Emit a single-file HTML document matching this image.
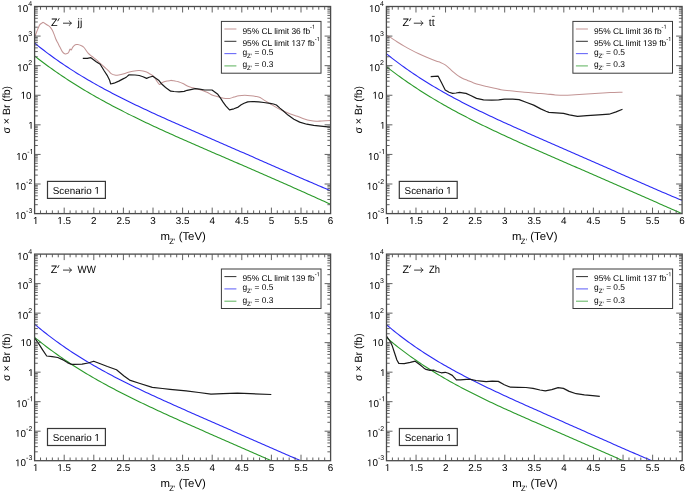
<!DOCTYPE html>
<html><head><meta charset="utf-8"><style>
html,body{margin:0;padding:0;background:#fff;width:685px;height:494px;overflow:hidden;}
svg{display:block;will-change:transform;}
tspan.o{fill-opacity:0;}
text{font-family:"Liberation Sans", sans-serif;text-rendering:geometricPrecision;}
</style></head><body>
<svg width="685" height="494" viewBox="0 0 685 494" font-family='"Liberation Sans", sans-serif' fill="#000">
<rect width="685" height="494" fill="#fff"/>
<defs>
<clipPath id="c1"><rect x="34.60" y="6.50" width="296.00" height="207.10"/></clipPath>
<clipPath id="c2"><rect x="386.40" y="6.50" width="295.70" height="207.10"/></clipPath>
<clipPath id="c3"><rect x="34.60" y="254.10" width="296.00" height="206.60"/></clipPath>
<clipPath id="c4"><rect x="386.50" y="254.10" width="295.70" height="206.60"/></clipPath>
</defs>
<g clip-path="url(#c1)">
<path d="M34.10,55.62 L36.10,57.19 L38.10,58.73 L40.10,60.26 L42.10,61.77 L44.10,63.26 L46.10,64.74 L48.10,66.20 L50.10,67.64 L52.10,69.07 L54.10,70.48 L56.10,71.87 L58.10,73.25 L60.10,74.62 L62.10,75.97 L64.10,77.30 L66.10,78.62 L68.10,79.93 L70.10,81.22 L72.10,82.50 L74.10,83.77 L76.10,85.02 L78.10,86.26 L80.10,87.49 L82.10,88.70 L84.10,89.91 L86.10,91.10 L88.10,92.28 L90.10,93.45 L92.10,94.61 L94.10,95.76 L96.10,96.90 L98.10,98.03 L100.10,99.14 L102.10,100.25 L104.10,101.35 L106.10,102.44 L108.10,103.52 L110.10,104.59 L112.10,105.66 L114.10,106.71 L116.10,107.76 L118.10,108.80 L120.10,109.83 L122.10,110.86 L124.10,111.87 L126.10,112.88 L128.10,113.89 L130.10,114.88 L132.10,115.87 L134.10,116.86 L136.10,117.84 L138.10,118.81 L140.10,119.77 L142.10,120.73 L144.10,121.69 L146.10,122.64 L148.10,123.59 L150.10,124.53 L152.10,125.46 L154.10,126.39 L156.10,127.32 L158.10,128.25 L160.10,129.16 L162.10,130.08 L164.10,130.99 L166.10,131.90 L168.10,132.81 L170.10,133.71 L172.10,134.61 L174.10,135.50 L176.10,136.40 L178.10,137.29 L180.10,138.17 L182.10,139.06 L184.10,139.94 L186.10,140.82 L188.10,141.70 L190.10,142.58 L192.10,143.46 L194.10,144.33 L196.10,145.21 L198.10,146.08 L200.10,146.95 L202.10,147.82 L204.10,148.68 L206.10,149.55 L208.10,150.42 L210.10,151.28 L212.10,152.15 L214.10,153.01 L216.10,153.88 L218.10,154.74 L220.10,155.60 L222.10,156.47 L224.10,157.33 L226.10,158.19 L228.10,159.06 L230.10,159.92 L232.10,160.78 L234.10,161.65 L236.10,162.51 L238.10,163.37 L240.10,164.24 L242.10,165.10 L244.10,165.97 L246.10,166.83 L248.10,167.70 L250.10,168.57 L252.10,169.44 L254.10,170.31 L256.10,171.18 L258.10,172.05 L260.10,172.92 L262.10,173.79 L264.10,174.66 L266.10,175.54 L268.10,176.41 L270.10,177.29 L272.10,178.17 L274.10,179.05 L276.10,179.93 L278.10,180.81 L280.10,181.69 L282.10,182.57 L284.10,183.46 L286.10,184.34 L288.10,185.23 L290.10,186.12 L292.10,187.00 L294.10,187.89 L296.10,188.78 L298.10,189.68 L300.10,190.57 L302.10,191.46 L304.10,192.36 L306.10,193.25 L308.10,194.15 L310.10,195.05 L312.10,195.95 L314.10,196.85 L316.10,197.75 L318.10,198.65 L320.10,199.55 L322.10,200.45 L324.10,201.36 L326.10,202.26 L328.10,203.16 L330.10,204.07 L330.60,204.29" stroke="#2a9a2a" stroke-width="1.10" fill="none" stroke-linejoin="round" stroke-linecap="butt" opacity="1.00"/>
<path d="M34.10,42.65 L36.10,44.27 L38.10,45.88 L40.10,47.46 L42.10,49.02 L44.10,50.56 L46.10,52.08 L48.10,53.58 L50.10,55.06 L52.10,56.52 L54.10,57.96 L56.10,59.39 L58.10,60.79 L60.10,62.18 L62.10,63.55 L64.10,64.90 L66.10,66.23 L68.10,67.55 L70.10,68.85 L72.10,70.14 L74.10,71.41 L76.10,72.67 L78.10,73.91 L80.10,75.14 L82.10,76.36 L84.10,77.56 L86.10,78.75 L88.10,79.92 L90.10,81.09 L92.10,82.24 L94.10,83.38 L96.10,84.51 L98.10,85.62 L100.10,86.73 L102.10,87.83 L104.10,88.91 L106.10,89.99 L108.10,91.05 L110.10,92.11 L112.10,93.16 L114.10,94.20 L116.10,95.23 L118.10,96.25 L120.10,97.27 L122.10,98.27 L124.10,99.27 L126.10,100.27 L128.10,101.25 L130.10,102.23 L132.10,103.20 L134.10,104.17 L136.10,105.13 L138.10,106.09 L140.10,107.04 L142.10,107.98 L144.10,108.92 L146.10,109.86 L148.10,110.79 L150.10,111.71 L152.10,112.64 L154.10,113.55 L156.10,114.47 L158.10,115.38 L160.10,116.29 L162.10,117.19 L164.10,118.09 L166.10,118.99 L168.10,119.88 L170.10,120.78 L172.10,121.67 L174.10,122.56 L176.10,123.44 L178.10,124.33 L180.10,125.21 L182.10,126.09 L184.10,126.97 L186.10,127.85 L188.10,128.72 L190.10,129.60 L192.10,130.47 L194.10,131.35 L196.10,132.22 L198.10,133.09 L200.10,133.96 L202.10,134.83 L204.10,135.70 L206.10,136.57 L208.10,137.44 L210.10,138.31 L212.10,139.18 L214.10,140.05 L216.10,140.92 L218.10,141.79 L220.10,142.66 L222.10,143.53 L224.10,144.40 L226.10,145.27 L228.10,146.14 L230.10,147.01 L232.10,147.89 L234.10,148.76 L236.10,149.63 L238.10,150.50 L240.10,151.38 L242.10,152.25 L244.10,153.12 L246.10,154.00 L248.10,154.87 L250.10,155.75 L252.10,156.62 L254.10,157.50 L256.10,158.38 L258.10,159.25 L260.10,160.13 L262.10,161.01 L264.10,161.89 L266.10,162.76 L268.10,163.64 L270.10,164.52 L272.10,165.40 L274.10,166.28 L276.10,167.16 L278.10,168.03 L280.10,168.91 L282.10,169.79 L284.10,170.67 L286.10,171.54 L288.10,172.42 L290.10,173.30 L292.10,174.17 L294.10,175.05 L296.10,175.92 L298.10,176.79 L300.10,177.66 L302.10,178.53 L304.10,179.40 L306.10,180.27 L308.10,181.13 L310.10,181.99 L312.10,182.86 L314.10,183.72 L316.10,184.57 L318.10,185.43 L320.10,186.28 L322.10,187.13 L324.10,187.97 L326.10,188.82 L328.10,189.66 L330.10,190.49 L330.60,190.70" stroke="#2a2af5" stroke-width="1.10" fill="none" stroke-linejoin="round" stroke-linecap="butt" opacity="1.00"/>
<path d="M35.00,36.20 C35.23,35.60 35.90,33.88 36.40,32.60 C36.90,31.32 37.45,29.78 38.00,28.50 C38.55,27.22 39.15,25.73 39.70,24.90 C40.25,24.07 40.70,23.92 41.30,23.50 C41.90,23.08 42.63,22.35 43.30,22.40 C43.97,22.45 44.55,23.32 45.30,23.80 C46.05,24.28 46.98,24.75 47.80,25.30 C48.62,25.85 49.47,26.30 50.20,27.10 C50.93,27.90 51.53,28.85 52.20,30.10 C52.87,31.35 53.60,33.12 54.20,34.60 C54.80,36.08 55.18,37.58 55.80,39.00 C56.42,40.42 57.22,41.75 57.90,43.10 C58.58,44.45 59.17,45.68 59.90,47.10 C60.63,48.52 61.50,50.48 62.30,51.60 C63.10,52.72 63.88,53.47 64.70,53.80 C65.52,54.13 66.52,53.90 67.20,53.60 C67.88,53.30 68.33,52.75 68.80,52.00 C69.27,51.25 69.60,49.43 70.00,49.10 C70.40,48.77 70.73,50.33 71.20,50.00 C71.67,49.67 72.12,47.98 72.80,47.10 C73.48,46.22 74.48,45.13 75.30,44.70 C76.12,44.27 76.77,44.37 77.70,44.50 C78.63,44.63 79.85,45.00 80.90,45.50 C81.95,46.00 82.80,46.22 84.00,47.50 C85.20,48.78 86.75,51.70 88.10,53.20 C89.45,54.70 90.75,55.42 92.10,56.50 C93.45,57.58 94.85,58.57 96.20,59.70 C97.55,60.83 98.85,62.08 100.20,63.30 C101.55,64.52 102.95,65.78 104.30,67.00 C105.65,68.22 107.08,69.45 108.30,70.60 C109.52,71.75 110.52,73.15 111.60,73.90 C112.68,74.65 113.60,74.93 114.80,75.10 C116.00,75.27 117.27,75.13 118.80,74.90 C120.33,74.67 122.40,74.15 124.00,73.70 C125.60,73.25 126.93,72.60 128.40,72.20 C129.87,71.80 131.10,71.57 132.80,71.30 C134.50,71.03 136.90,70.67 138.60,70.60 C140.30,70.53 141.67,70.68 143.00,70.90 C144.33,71.12 145.52,71.43 146.60,71.90 C147.68,72.37 148.52,73.10 149.50,73.70 C150.48,74.30 151.63,74.83 152.50,75.50 C153.37,76.17 153.98,76.78 154.70,77.70 C155.42,78.62 156.02,79.87 156.80,81.00 C157.58,82.13 158.67,84.13 159.40,84.50 C160.13,84.87 160.53,83.60 161.20,83.20 C161.87,82.80 162.42,82.45 163.40,82.10 C164.38,81.75 165.88,81.38 167.10,81.10 C168.32,80.82 169.55,80.45 170.70,80.40 C171.85,80.35 172.72,80.58 174.00,80.80 C175.28,81.02 176.82,81.20 178.40,81.70 C179.98,82.20 181.92,83.03 183.50,83.80 C185.08,84.57 186.32,85.63 187.90,86.30 C189.48,86.97 191.30,87.32 193.00,87.80 C194.70,88.28 196.40,88.72 198.10,89.20 C199.80,89.68 201.62,90.15 203.20,90.70 C204.78,91.25 206.13,91.77 207.60,92.50 C209.07,93.23 210.42,94.43 212.00,95.10 C213.58,95.77 215.17,95.98 217.10,96.50 C219.03,97.02 221.53,97.88 223.60,98.20 C225.67,98.52 227.78,98.58 229.50,98.40 C231.22,98.22 232.32,97.55 233.90,97.10 C235.48,96.65 237.18,96.00 239.00,95.70 C240.82,95.40 242.85,95.30 244.80,95.30 C246.75,95.30 248.87,95.52 250.70,95.70 C252.53,95.88 254.23,96.10 255.80,96.40 C257.37,96.70 258.65,96.83 260.10,97.50 C261.55,98.17 262.85,99.37 264.50,100.40 C266.15,101.43 267.83,102.42 270.00,103.70 C272.17,104.98 275.27,106.88 277.50,108.10 C279.73,109.32 281.25,110.03 283.40,111.00 C285.55,111.97 288.07,113.02 290.40,113.90 C292.73,114.78 295.07,115.45 297.40,116.30 C299.73,117.15 302.27,118.28 304.40,119.00 C306.53,119.72 308.25,120.22 310.20,120.60 C312.15,120.98 314.15,121.25 316.10,121.30 C318.05,121.35 319.57,121.05 321.90,120.90 C324.23,120.75 328.73,120.48 330.10,120.40" stroke="#c39595" stroke-width="1.05" fill="none" stroke-linejoin="round" stroke-linecap="butt" opacity="1.00"/>
<path d="M82.80,58.30 L87.30,58.30 L90.90,57.70 L92.90,59.30 L96.20,61.70 L100.20,64.20 L101.40,66.20 L104.30,71.00 L107.50,75.90 L109.50,79.90 L110.70,84.00 L114.00,83.20 L118.80,81.10 L124.00,78.40 L126.60,76.90 L129.10,74.80 L135.00,75.00 L139.30,75.50 L143.00,76.80 L146.60,78.40 L149.20,77.30 L152.80,76.20 L156.10,78.40 L159.00,80.60 L162.00,84.30 L165.60,87.50 L170.70,91.20 L174.00,91.50 L179.10,91.80 L184.20,91.40 L187.10,90.30 L190.80,89.60 L195.20,88.70 L199.50,89.20 L204.70,90.00 L212.00,90.00 L217.80,94.30 L220.70,98.40 L222.90,101.90 L225.80,105.90 L229.50,109.90 L233.90,108.80 L238.20,107.10 L241.20,104.80 L244.10,103.30 L247.70,101.90 L252.80,101.50 L258.70,101.90 L263.80,102.50 L270.00,103.30 L273.50,104.00 L276.40,105.00 L279.90,108.10 L283.40,111.00 L288.00,115.10 L293.90,119.20 L299.70,122.10 L306.70,124.20 L313.70,125.40 L320.70,126.20 L330.10,127.10" stroke="#1a1a1a" stroke-width="1.20" fill="none" stroke-linejoin="round" stroke-linecap="butt" opacity="1.00"/>
</g>
<rect x="34.60" y="6.50" width="296.00" height="207.10" fill="none" stroke="#4a4a4a" stroke-width="1.3"/>
<path d="M40.52,213.60v-3.20M40.52,6.50v3.20M46.44,213.60v-3.20M46.44,6.50v3.20M52.36,213.60v-3.20M52.36,6.50v3.20M58.28,213.60v-3.20M58.28,6.50v3.20M64.20,213.60v-6.00M64.20,6.50v6.00M70.12,213.60v-3.20M70.12,6.50v3.20M76.04,213.60v-3.20M76.04,6.50v3.20M81.96,213.60v-3.20M81.96,6.50v3.20M87.88,213.60v-3.20M87.88,6.50v3.20M93.80,213.60v-6.00M93.80,6.50v6.00M99.72,213.60v-3.20M99.72,6.50v3.20M105.64,213.60v-3.20M105.64,6.50v3.20M111.56,213.60v-3.20M111.56,6.50v3.20M117.48,213.60v-3.20M117.48,6.50v3.20M123.40,213.60v-6.00M123.40,6.50v6.00M129.32,213.60v-3.20M129.32,6.50v3.20M135.24,213.60v-3.20M135.24,6.50v3.20M141.16,213.60v-3.20M141.16,6.50v3.20M147.08,213.60v-3.20M147.08,6.50v3.20M153.00,213.60v-6.00M153.00,6.50v6.00M158.92,213.60v-3.20M158.92,6.50v3.20M164.84,213.60v-3.20M164.84,6.50v3.20M170.76,213.60v-3.20M170.76,6.50v3.20M176.68,213.60v-3.20M176.68,6.50v3.20M182.60,213.60v-6.00M182.60,6.50v6.00M188.52,213.60v-3.20M188.52,6.50v3.20M194.44,213.60v-3.20M194.44,6.50v3.20M200.36,213.60v-3.20M200.36,6.50v3.20M206.28,213.60v-3.20M206.28,6.50v3.20M212.20,213.60v-6.00M212.20,6.50v6.00M218.12,213.60v-3.20M218.12,6.50v3.20M224.04,213.60v-3.20M224.04,6.50v3.20M229.96,213.60v-3.20M229.96,6.50v3.20M235.88,213.60v-3.20M235.88,6.50v3.20M241.80,213.60v-6.00M241.80,6.50v6.00M247.72,213.60v-3.20M247.72,6.50v3.20M253.64,213.60v-3.20M253.64,6.50v3.20M259.56,213.60v-3.20M259.56,6.50v3.20M265.48,213.60v-3.20M265.48,6.50v3.20M271.40,213.60v-6.00M271.40,6.50v6.00M277.32,213.60v-3.20M277.32,6.50v3.20M283.24,213.60v-3.20M283.24,6.50v3.20M289.16,213.60v-3.20M289.16,6.50v3.20M295.08,213.60v-3.20M295.08,6.50v3.20M301.00,213.60v-6.00M301.00,6.50v6.00M306.92,213.60v-3.20M306.92,6.50v3.20M312.84,213.60v-3.20M312.84,6.50v3.20M318.76,213.60v-3.20M318.76,6.50v3.20M324.68,213.60v-3.20M324.68,6.50v3.20M34.60,204.69h3.20M330.60,204.69h-3.20M34.60,199.48h3.20M330.60,199.48h-3.20M34.60,195.79h3.20M330.60,195.79h-3.20M34.60,192.92h3.20M330.60,192.92h-3.20M34.60,190.58h3.20M330.60,190.58h-3.20M34.60,188.60h3.20M330.60,188.60h-3.20M34.60,186.88h3.20M330.60,186.88h-3.20M34.60,185.37h3.20M330.60,185.37h-3.20M34.60,184.01h6.00M330.60,184.01h-6.00M34.60,175.11h3.20M330.60,175.11h-3.20M34.60,169.90h3.20M330.60,169.90h-3.20M34.60,166.20h3.20M330.60,166.20h-3.20M34.60,163.33h3.20M330.60,163.33h-3.20M34.60,160.99h3.20M330.60,160.99h-3.20M34.60,159.01h3.20M330.60,159.01h-3.20M34.60,157.30h3.20M330.60,157.30h-3.20M34.60,155.78h3.20M330.60,155.78h-3.20M34.60,154.43h6.00M330.60,154.43h-6.00M34.60,145.52h3.20M330.60,145.52h-3.20M34.60,140.31h3.20M330.60,140.31h-3.20M34.60,136.62h3.20M330.60,136.62h-3.20M34.60,133.75h3.20M330.60,133.75h-3.20M34.60,131.41h3.20M330.60,131.41h-3.20M34.60,129.43h3.20M330.60,129.43h-3.20M34.60,127.71h3.20M330.60,127.71h-3.20M34.60,126.20h3.20M330.60,126.20h-3.20M34.60,124.84h6.00M330.60,124.84h-6.00M34.60,115.94h3.20M330.60,115.94h-3.20M34.60,110.73h3.20M330.60,110.73h-3.20M34.60,107.03h3.20M330.60,107.03h-3.20M34.60,104.16h3.20M330.60,104.16h-3.20M34.60,101.82h3.20M330.60,101.82h-3.20M34.60,99.84h3.20M330.60,99.84h-3.20M34.60,98.12h3.20M330.60,98.12h-3.20M34.60,96.61h3.20M330.60,96.61h-3.20M34.60,95.26h6.00M330.60,95.26h-6.00M34.60,86.35h3.20M330.60,86.35h-3.20M34.60,81.14h3.20M330.60,81.14h-3.20M34.60,77.44h3.20M330.60,77.44h-3.20M34.60,74.58h3.20M330.60,74.58h-3.20M34.60,72.23h3.20M330.60,72.23h-3.20M34.60,70.25h3.20M330.60,70.25h-3.20M34.60,68.54h3.20M330.60,68.54h-3.20M34.60,67.03h3.20M330.60,67.03h-3.20M34.60,65.67h6.00M330.60,65.67h-6.00M34.60,56.77h3.20M330.60,56.77h-3.20M34.60,51.56h3.20M330.60,51.56h-3.20M34.60,47.86h3.20M330.60,47.86h-3.20M34.60,44.99h3.20M330.60,44.99h-3.20M34.60,42.65h3.20M330.60,42.65h-3.20M34.60,40.67h3.20M330.60,40.67h-3.20M34.60,38.95h3.20M330.60,38.95h-3.20M34.60,37.44h3.20M330.60,37.44h-3.20M34.60,36.09h6.00M330.60,36.09h-6.00M34.60,27.18h3.20M330.60,27.18h-3.20M34.60,21.97h3.20M330.60,21.97h-3.20M34.60,18.27h3.20M330.60,18.27h-3.20M34.60,15.41h3.20M330.60,15.41h-3.20M34.60,13.06h3.20M330.60,13.06h-3.20M34.60,11.08h3.20M330.60,11.08h-3.20M34.60,9.37h3.20M330.60,9.37h-3.20M34.60,7.85h3.20M330.60,7.85h-3.20" stroke="#505050" stroke-width="0.9" fill="none"/>
<text x="35.70" y="223.90" font-size="9.90" text-anchor="middle"><tspan class="o">1</tspan></text>
<text x="64.20" y="223.90" font-size="9.90" text-anchor="middle"><tspan class="o">1</tspan>.5</text>
<text x="93.80" y="223.90" font-size="9.90" text-anchor="middle">2</text>
<text x="123.40" y="223.90" font-size="9.90" text-anchor="middle">2.5</text>
<text x="153.00" y="223.90" font-size="9.90" text-anchor="middle">3</text>
<text x="182.60" y="223.90" font-size="9.90" text-anchor="middle">3.5</text>
<text x="212.20" y="223.90" font-size="9.90" text-anchor="middle">4</text>
<text x="241.80" y="223.90" font-size="9.90" text-anchor="middle">4.5</text>
<text x="271.40" y="223.90" font-size="9.90" text-anchor="middle">5</text>
<text x="301.00" y="223.90" font-size="9.90" text-anchor="middle">5.5</text>
<text x="330.60" y="223.90" font-size="9.90" text-anchor="middle">6</text>
<text x="28.20" y="12.00" font-size="9.90" text-anchor="end"><tspan class="o">1</tspan>0</text>
<text x="28.20" y="6.00" font-size="7.00" text-anchor="start">4</text>
<text x="28.20" y="41.59" font-size="9.90" text-anchor="end"><tspan class="o">1</tspan>0</text>
<text x="28.20" y="35.59" font-size="7.00" text-anchor="start">3</text>
<text x="28.20" y="71.17" font-size="9.90" text-anchor="end"><tspan class="o">1</tspan>0</text>
<text x="28.20" y="65.17" font-size="7.00" text-anchor="start">2</text>
<text x="31.60" y="98.66" font-size="9.90" text-anchor="end"><tspan class="o">1</tspan>0</text>
<text x="33.65" y="128.74" font-size="9.90" text-anchor="end"><tspan class="o">1</tspan></text>
<text x="27.20" y="159.93" font-size="9.90" text-anchor="end"><tspan class="o">1</tspan>0</text>
<text x="27.20" y="153.93" font-size="7.00" text-anchor="start">-<tspan class="o">1</tspan></text>
<text x="26.05" y="189.51" font-size="9.90" text-anchor="end"><tspan class="o">1</tspan>0</text>
<text x="26.05" y="183.51" font-size="7.00" text-anchor="start">-2</text>
<text x="26.05" y="219.10" font-size="9.90" text-anchor="end"><tspan class="o">1</tspan>0</text>
<text x="26.05" y="213.10" font-size="7.00" text-anchor="start">-3</text>
<text x="183.10" y="240.20" font-size="11.35" text-anchor="middle">m<tspan font-size="7.6" dy="4" dx="-0.7">Z’</tspan><tspan dy="-4"> (TeV)</tspan></text>
<text transform="translate(9.70,109.75) rotate(-90)" font-size="10.5" text-anchor="middle">σ × Br (fb)</text>
<g clip-path="url(#c2)">
<path d="M385.90,66.21 L387.90,67.78 L389.90,69.33 L391.90,70.85 L393.90,72.36 L395.90,73.85 L397.90,75.33 L399.90,76.78 L401.90,78.22 L403.90,79.64 L405.90,81.04 L407.90,82.43 L409.90,83.80 L411.90,85.15 L413.90,86.49 L415.90,87.82 L417.90,89.13 L419.90,90.42 L421.90,91.70 L423.90,92.97 L425.90,94.22 L427.90,95.46 L429.90,96.68 L431.90,97.90 L433.90,99.10 L435.90,100.29 L437.90,101.47 L439.90,102.63 L441.90,103.78 L443.90,104.93 L445.90,106.06 L447.90,107.18 L449.90,108.29 L451.90,109.40 L453.90,110.49 L455.90,111.57 L457.90,112.65 L459.90,113.71 L461.90,114.77 L463.90,115.81 L465.90,116.85 L467.90,117.88 L469.90,118.91 L471.90,119.93 L473.90,120.93 L475.90,121.94 L477.90,122.93 L479.90,123.92 L481.90,124.90 L483.90,125.88 L485.90,126.85 L487.90,127.82 L489.90,128.77 L491.90,129.73 L493.90,130.68 L495.90,131.62 L497.90,132.56 L499.90,133.49 L501.90,134.43 L503.90,135.35 L505.90,136.27 L507.90,137.19 L509.90,138.11 L511.90,139.02 L513.90,139.92 L515.90,140.83 L517.90,141.73 L519.90,142.63 L521.90,143.52 L523.90,144.42 L525.90,145.31 L527.90,146.20 L529.90,147.08 L531.90,147.97 L533.90,148.85 L535.90,149.73 L537.90,150.61 L539.90,151.49 L541.90,152.36 L543.90,153.24 L545.90,154.11 L547.90,154.98 L549.90,155.85 L551.90,156.72 L553.90,157.59 L555.90,158.46 L557.90,159.33 L559.90,160.20 L561.90,161.07 L563.90,161.93 L565.90,162.80 L567.90,163.67 L569.90,164.53 L571.90,165.40 L573.90,166.27 L575.90,167.13 L577.90,168.00 L579.90,168.86 L581.90,169.73 L583.90,170.60 L585.90,171.47 L587.90,172.33 L589.90,173.20 L591.90,174.07 L593.90,174.94 L595.90,175.81 L597.90,176.68 L599.90,177.55 L601.90,178.42 L603.90,179.29 L605.90,180.17 L607.90,181.04 L609.90,181.91 L611.90,182.79 L613.90,183.66 L615.90,184.54 L617.90,185.41 L619.90,186.29 L621.90,187.16 L623.90,188.04 L625.90,188.92 L627.90,189.80 L629.90,190.68 L631.90,191.56 L633.90,192.44 L635.90,193.32 L637.90,194.20 L639.90,195.08 L641.90,195.96 L643.90,196.84 L645.90,197.72 L647.90,198.60 L649.90,199.48 L651.90,200.36 L653.90,201.24 L655.90,202.12 L657.90,203.00 L659.90,203.88 L661.90,204.76 L663.90,205.64 L665.90,206.52 L667.90,207.40 L669.90,208.27 L671.90,209.15 L673.90,210.02 L675.90,210.90 L677.90,211.77 L679.90,212.64 L681.90,213.51 L682.00,213.55" stroke="#2a9a2a" stroke-width="1.10" fill="none" stroke-linejoin="round" stroke-linecap="butt" opacity="1.00"/>
<path d="M385.90,53.31 L387.90,54.93 L389.90,56.52 L391.90,58.09 L393.90,59.64 L395.90,61.16 L397.90,62.67 L399.90,64.15 L401.90,65.62 L403.90,67.06 L405.90,68.49 L407.90,69.89 L409.90,71.28 L411.90,72.65 L413.90,74.00 L415.90,75.33 L417.90,76.65 L419.90,77.95 L421.90,79.24 L423.90,80.51 L425.90,81.76 L427.90,83.00 L429.90,84.22 L431.90,85.43 L433.90,86.63 L435.90,87.81 L437.90,88.98 L439.90,90.14 L441.90,91.29 L443.90,92.42 L445.90,93.54 L447.90,94.65 L449.90,95.75 L451.90,96.84 L453.90,97.92 L455.90,98.99 L457.90,100.05 L459.90,101.10 L461.90,102.14 L463.90,103.17 L465.90,104.19 L467.90,105.21 L469.90,106.22 L471.90,107.21 L473.90,108.21 L475.90,109.19 L477.90,110.17 L479.90,111.14 L481.90,112.11 L483.90,113.07 L485.90,114.02 L487.90,114.97 L489.90,115.92 L491.90,116.86 L493.90,117.79 L495.90,118.72 L497.90,119.64 L499.90,120.56 L501.90,121.48 L503.90,122.39 L505.90,123.30 L507.90,124.21 L509.90,125.11 L511.90,126.01 L513.90,126.91 L515.90,127.80 L517.90,128.70 L519.90,129.59 L521.90,130.48 L523.90,131.36 L525.90,132.25 L527.90,133.13 L529.90,134.01 L531.90,134.89 L533.90,135.77 L535.90,136.65 L537.90,137.52 L539.90,138.40 L541.90,139.27 L543.90,140.15 L545.90,141.02 L547.90,141.90 L549.90,142.77 L551.90,143.64 L553.90,144.52 L555.90,145.39 L557.90,146.26 L559.90,147.13 L561.90,148.01 L563.90,148.88 L565.90,149.75 L567.90,150.63 L569.90,151.50 L571.90,152.38 L573.90,153.25 L575.90,154.13 L577.90,155.00 L579.90,155.88 L581.90,156.76 L583.90,157.63 L585.90,158.51 L587.90,159.39 L589.90,160.27 L591.90,161.15 L593.90,162.03 L595.90,162.91 L597.90,163.79 L599.90,164.67 L601.90,165.56 L603.90,166.44 L605.90,167.32 L607.90,168.21 L609.90,169.09 L611.90,169.97 L613.90,170.86 L615.90,171.74 L617.90,172.63 L619.90,173.51 L621.90,174.39 L623.90,175.28 L625.90,176.16 L627.90,177.05 L629.90,177.93 L631.90,178.81 L633.90,179.69 L635.90,180.57 L637.90,181.45 L639.90,182.33 L641.90,183.21 L643.90,184.09 L645.90,184.96 L647.90,185.83 L649.90,186.71 L651.90,187.58 L653.90,188.44 L655.90,189.31 L657.90,190.17 L659.90,191.03 L661.90,191.89 L663.90,192.75 L665.90,193.60 L667.90,194.45 L669.90,195.29 L671.90,196.14 L673.90,196.97 L675.90,197.81 L677.90,198.64 L679.90,199.46 L681.90,200.28 L682.00,200.32" stroke="#2a2af5" stroke-width="1.10" fill="none" stroke-linejoin="round" stroke-linecap="butt" opacity="1.00"/>
<path d="M386.40,35.10 C386.93,35.40 387.83,35.80 389.60,36.90 C391.37,38.00 394.57,40.17 397.00,41.70 C399.43,43.23 401.78,44.70 404.20,46.10 C406.62,47.50 409.07,48.83 411.50,50.10 C413.93,51.37 416.37,52.55 418.80,53.70 C421.23,54.85 423.23,55.78 426.10,57.00 C428.97,58.22 433.62,60.10 436.00,61.00 C438.38,61.90 438.93,61.80 440.40,62.40 C441.87,63.00 443.35,63.65 444.80,64.60 C446.25,65.55 447.65,66.85 449.10,68.10 C450.55,69.35 452.03,70.85 453.50,72.10 C454.97,73.35 456.43,74.58 457.90,75.60 C459.37,76.62 460.70,77.40 462.30,78.20 C463.90,79.00 465.60,79.62 467.50,80.40 C469.40,81.18 471.65,82.17 473.70,82.90 C475.75,83.63 477.62,84.20 479.80,84.80 C481.98,85.40 484.10,85.88 486.80,86.50 C489.50,87.12 493.63,87.97 496.00,88.50 C498.37,89.03 498.22,89.27 501.00,89.70 C503.78,90.13 508.80,90.68 512.70,91.10 C516.60,91.52 520.50,91.85 524.40,92.20 C528.30,92.55 532.50,92.92 536.10,93.20 C539.70,93.48 542.80,93.62 546.00,93.90 C549.20,94.18 552.18,94.67 555.30,94.90 C558.42,95.13 561.38,95.33 564.70,95.30 C568.02,95.27 571.50,94.92 575.20,94.70 C578.90,94.48 583.00,94.25 586.90,94.00 C590.80,93.75 594.72,93.43 598.60,93.20 C602.48,92.97 606.22,92.77 610.20,92.60 C614.18,92.43 620.45,92.27 622.50,92.20" stroke="#c39595" stroke-width="1.05" fill="none" stroke-linejoin="round" stroke-linecap="butt" opacity="1.00"/>
<path d="M430.70,76.60 L438.20,76.20 L441.30,82.20 L445.20,90.00 L449.10,92.20 L452.60,93.40 L456.00,93.00 L459.60,92.40 L464.00,93.10 L466.00,93.40 L470.70,95.50 L476.50,98.40 L483.50,99.80 L491.70,100.20 L498.70,99.80 L504.50,99.20 L512.70,99.20 L519.10,99.60 L526.70,102.50 L533.70,105.10 L540.70,108.90 L546.00,111.30 L548.90,112.40 L563.50,113.30 L569.40,114.80 L577.50,116.30 L586.90,115.60 L598.60,114.80 L609.10,114.20 L616.10,111.90 L622.50,109.30" stroke="#1a1a1a" stroke-width="1.20" fill="none" stroke-linejoin="round" stroke-linecap="butt" opacity="1.00"/>
</g>
<rect x="386.40" y="6.50" width="295.70" height="207.10" fill="none" stroke="#4a4a4a" stroke-width="1.3"/>
<path d="M392.31,213.60v-3.20M392.31,6.50v3.20M398.23,213.60v-3.20M398.23,6.50v3.20M404.14,213.60v-3.20M404.14,6.50v3.20M410.06,213.60v-3.20M410.06,6.50v3.20M415.97,213.60v-6.00M415.97,6.50v6.00M421.88,213.60v-3.20M421.88,6.50v3.20M427.80,213.60v-3.20M427.80,6.50v3.20M433.71,213.60v-3.20M433.71,6.50v3.20M439.63,213.60v-3.20M439.63,6.50v3.20M445.54,213.60v-6.00M445.54,6.50v6.00M451.45,213.60v-3.20M451.45,6.50v3.20M457.37,213.60v-3.20M457.37,6.50v3.20M463.28,213.60v-3.20M463.28,6.50v3.20M469.20,213.60v-3.20M469.20,6.50v3.20M475.11,213.60v-6.00M475.11,6.50v6.00M481.02,213.60v-3.20M481.02,6.50v3.20M486.94,213.60v-3.20M486.94,6.50v3.20M492.85,213.60v-3.20M492.85,6.50v3.20M498.77,213.60v-3.20M498.77,6.50v3.20M504.68,213.60v-6.00M504.68,6.50v6.00M510.59,213.60v-3.20M510.59,6.50v3.20M516.51,213.60v-3.20M516.51,6.50v3.20M522.42,213.60v-3.20M522.42,6.50v3.20M528.34,213.60v-3.20M528.34,6.50v3.20M534.25,213.60v-6.00M534.25,6.50v6.00M540.16,213.60v-3.20M540.16,6.50v3.20M546.08,213.60v-3.20M546.08,6.50v3.20M551.99,213.60v-3.20M551.99,6.50v3.20M557.91,213.60v-3.20M557.91,6.50v3.20M563.82,213.60v-6.00M563.82,6.50v6.00M569.73,213.60v-3.20M569.73,6.50v3.20M575.65,213.60v-3.20M575.65,6.50v3.20M581.56,213.60v-3.20M581.56,6.50v3.20M587.48,213.60v-3.20M587.48,6.50v3.20M593.39,213.60v-6.00M593.39,6.50v6.00M599.30,213.60v-3.20M599.30,6.50v3.20M605.22,213.60v-3.20M605.22,6.50v3.20M611.13,213.60v-3.20M611.13,6.50v3.20M617.05,213.60v-3.20M617.05,6.50v3.20M622.96,213.60v-6.00M622.96,6.50v6.00M628.87,213.60v-3.20M628.87,6.50v3.20M634.79,213.60v-3.20M634.79,6.50v3.20M640.70,213.60v-3.20M640.70,6.50v3.20M646.62,213.60v-3.20M646.62,6.50v3.20M652.53,213.60v-6.00M652.53,6.50v6.00M658.44,213.60v-3.20M658.44,6.50v3.20M664.36,213.60v-3.20M664.36,6.50v3.20M670.27,213.60v-3.20M670.27,6.50v3.20M676.19,213.60v-3.20M676.19,6.50v3.20M386.40,204.69h3.20M682.10,204.69h-3.20M386.40,199.48h3.20M682.10,199.48h-3.20M386.40,195.79h3.20M682.10,195.79h-3.20M386.40,192.92h3.20M682.10,192.92h-3.20M386.40,190.58h3.20M682.10,190.58h-3.20M386.40,188.60h3.20M682.10,188.60h-3.20M386.40,186.88h3.20M682.10,186.88h-3.20M386.40,185.37h3.20M682.10,185.37h-3.20M386.40,184.01h6.00M682.10,184.01h-6.00M386.40,175.11h3.20M682.10,175.11h-3.20M386.40,169.90h3.20M682.10,169.90h-3.20M386.40,166.20h3.20M682.10,166.20h-3.20M386.40,163.33h3.20M682.10,163.33h-3.20M386.40,160.99h3.20M682.10,160.99h-3.20M386.40,159.01h3.20M682.10,159.01h-3.20M386.40,157.30h3.20M682.10,157.30h-3.20M386.40,155.78h3.20M682.10,155.78h-3.20M386.40,154.43h6.00M682.10,154.43h-6.00M386.40,145.52h3.20M682.10,145.52h-3.20M386.40,140.31h3.20M682.10,140.31h-3.20M386.40,136.62h3.20M682.10,136.62h-3.20M386.40,133.75h3.20M682.10,133.75h-3.20M386.40,131.41h3.20M682.10,131.41h-3.20M386.40,129.43h3.20M682.10,129.43h-3.20M386.40,127.71h3.20M682.10,127.71h-3.20M386.40,126.20h3.20M682.10,126.20h-3.20M386.40,124.84h6.00M682.10,124.84h-6.00M386.40,115.94h3.20M682.10,115.94h-3.20M386.40,110.73h3.20M682.10,110.73h-3.20M386.40,107.03h3.20M682.10,107.03h-3.20M386.40,104.16h3.20M682.10,104.16h-3.20M386.40,101.82h3.20M682.10,101.82h-3.20M386.40,99.84h3.20M682.10,99.84h-3.20M386.40,98.12h3.20M682.10,98.12h-3.20M386.40,96.61h3.20M682.10,96.61h-3.20M386.40,95.26h6.00M682.10,95.26h-6.00M386.40,86.35h3.20M682.10,86.35h-3.20M386.40,81.14h3.20M682.10,81.14h-3.20M386.40,77.44h3.20M682.10,77.44h-3.20M386.40,74.58h3.20M682.10,74.58h-3.20M386.40,72.23h3.20M682.10,72.23h-3.20M386.40,70.25h3.20M682.10,70.25h-3.20M386.40,68.54h3.20M682.10,68.54h-3.20M386.40,67.03h3.20M682.10,67.03h-3.20M386.40,65.67h6.00M682.10,65.67h-6.00M386.40,56.77h3.20M682.10,56.77h-3.20M386.40,51.56h3.20M682.10,51.56h-3.20M386.40,47.86h3.20M682.10,47.86h-3.20M386.40,44.99h3.20M682.10,44.99h-3.20M386.40,42.65h3.20M682.10,42.65h-3.20M386.40,40.67h3.20M682.10,40.67h-3.20M386.40,38.95h3.20M682.10,38.95h-3.20M386.40,37.44h3.20M682.10,37.44h-3.20M386.40,36.09h6.00M682.10,36.09h-6.00M386.40,27.18h3.20M682.10,27.18h-3.20M386.40,21.97h3.20M682.10,21.97h-3.20M386.40,18.27h3.20M682.10,18.27h-3.20M386.40,15.41h3.20M682.10,15.41h-3.20M386.40,13.06h3.20M682.10,13.06h-3.20M386.40,11.08h3.20M682.10,11.08h-3.20M386.40,9.37h3.20M682.10,9.37h-3.20M386.40,7.85h3.20M682.10,7.85h-3.20" stroke="#505050" stroke-width="0.9" fill="none"/>
<text x="387.50" y="223.90" font-size="9.90" text-anchor="middle"><tspan class="o">1</tspan></text>
<text x="415.97" y="223.90" font-size="9.90" text-anchor="middle"><tspan class="o">1</tspan>.5</text>
<text x="445.54" y="223.90" font-size="9.90" text-anchor="middle">2</text>
<text x="475.11" y="223.90" font-size="9.90" text-anchor="middle">2.5</text>
<text x="504.68" y="223.90" font-size="9.90" text-anchor="middle">3</text>
<text x="534.25" y="223.90" font-size="9.90" text-anchor="middle">3.5</text>
<text x="563.82" y="223.90" font-size="9.90" text-anchor="middle">4</text>
<text x="593.39" y="223.90" font-size="9.90" text-anchor="middle">4.5</text>
<text x="622.96" y="223.90" font-size="9.90" text-anchor="middle">5</text>
<text x="652.53" y="223.90" font-size="9.90" text-anchor="middle">5.5</text>
<text x="682.10" y="223.90" font-size="9.90" text-anchor="middle">6</text>
<text x="380.00" y="12.00" font-size="9.90" text-anchor="end"><tspan class="o">1</tspan>0</text>
<text x="380.00" y="6.00" font-size="7.00" text-anchor="start">4</text>
<text x="380.00" y="41.59" font-size="9.90" text-anchor="end"><tspan class="o">1</tspan>0</text>
<text x="380.00" y="35.59" font-size="7.00" text-anchor="start">3</text>
<text x="380.00" y="71.17" font-size="9.90" text-anchor="end"><tspan class="o">1</tspan>0</text>
<text x="380.00" y="65.17" font-size="7.00" text-anchor="start">2</text>
<text x="383.40" y="98.66" font-size="9.90" text-anchor="end"><tspan class="o">1</tspan>0</text>
<text x="385.45" y="128.74" font-size="9.90" text-anchor="end"><tspan class="o">1</tspan></text>
<text x="379.00" y="159.93" font-size="9.90" text-anchor="end"><tspan class="o">1</tspan>0</text>
<text x="379.00" y="153.93" font-size="7.00" text-anchor="start">-<tspan class="o">1</tspan></text>
<text x="377.85" y="189.51" font-size="9.90" text-anchor="end"><tspan class="o">1</tspan>0</text>
<text x="377.85" y="183.51" font-size="7.00" text-anchor="start">-2</text>
<text x="377.85" y="219.10" font-size="9.90" text-anchor="end"><tspan class="o">1</tspan>0</text>
<text x="377.85" y="213.10" font-size="7.00" text-anchor="start">-3</text>
<text x="534.75" y="240.20" font-size="11.35" text-anchor="middle">m<tspan font-size="7.6" dy="4" dx="-0.7">Z’</tspan><tspan dy="-4"> (TeV)</tspan></text>
<text transform="translate(361.50,109.75) rotate(-90)" font-size="10.5" text-anchor="middle">σ × Br (fb)</text>
<g clip-path="url(#c3)">
<path d="M34.10,336.93 L36.10,338.57 L38.10,340.19 L40.10,341.78 L42.10,343.36 L44.10,344.91 L46.10,346.44 L48.10,347.96 L50.10,349.45 L52.10,350.93 L54.10,352.38 L56.10,353.82 L58.10,355.24 L60.10,356.64 L62.10,358.02 L64.10,359.39 L66.10,360.74 L68.10,362.07 L70.10,363.39 L72.10,364.70 L74.10,365.99 L76.10,367.26 L78.10,368.52 L80.10,369.76 L82.10,370.99 L84.10,372.21 L86.10,373.42 L88.10,374.61 L90.10,375.79 L92.10,376.96 L94.10,378.12 L96.10,379.26 L98.10,380.40 L100.10,381.52 L102.10,382.63 L104.10,383.74 L106.10,384.83 L108.10,385.91 L110.10,386.99 L112.10,388.05 L114.10,389.11 L116.10,390.16 L118.10,391.20 L120.10,392.23 L122.10,393.25 L124.10,394.27 L126.10,395.28 L128.10,396.28 L130.10,397.28 L132.10,398.27 L134.10,399.25 L136.10,400.23 L138.10,401.20 L140.10,402.16 L142.10,403.13 L144.10,404.08 L146.10,405.03 L148.10,405.98 L150.10,406.92 L152.10,407.86 L154.10,408.79 L156.10,409.72 L158.10,410.64 L160.10,411.57 L162.10,412.49 L164.10,413.40 L166.10,414.31 L168.10,415.22 L170.10,416.13 L172.10,417.03 L174.10,417.93 L176.10,418.83 L178.10,419.73 L180.10,420.63 L182.10,421.52 L184.10,422.41 L186.10,423.30 L188.10,424.19 L190.10,425.07 L192.10,425.96 L194.10,426.84 L196.10,427.73 L198.10,428.61 L200.10,429.49 L202.10,430.37 L204.10,431.25 L206.10,432.13 L208.10,433.01 L210.10,433.89 L212.10,434.76 L214.10,435.64 L216.10,436.52 L218.10,437.39 L220.10,438.27 L222.10,439.15 L224.10,440.02 L226.10,440.90 L228.10,441.77 L230.10,442.65 L232.10,443.52 L234.10,444.40 L236.10,445.27 L238.10,446.15 L240.10,447.03 L242.10,447.90 L244.10,448.78 L246.10,449.65 L248.10,450.53 L250.10,451.40 L252.10,452.28 L254.10,453.16 L256.10,454.03 L258.10,454.91 L260.10,455.78 L262.10,456.66 L264.10,457.53 L266.10,458.41 L268.10,459.28 L270.10,460.15 L272.10,461.03 L274.10,461.90 L276.10,462.77 L278.10,463.64 L280.00,464.47" stroke="#2a9a2a" stroke-width="1.10" fill="none" stroke-linejoin="round" stroke-linecap="butt" opacity="1.00"/>
<path d="M34.10,323.67 L36.10,325.37 L38.10,327.06 L40.10,328.71 L42.10,330.35 L44.10,331.95 L46.10,333.54 L48.10,335.10 L50.10,336.64 L52.10,338.15 L54.10,339.65 L56.10,341.12 L58.10,342.57 L60.10,344.01 L62.10,345.42 L64.10,346.81 L66.10,348.18 L68.10,349.54 L70.10,350.88 L72.10,352.20 L74.10,353.50 L76.10,354.79 L78.10,356.06 L80.10,357.32 L82.10,358.56 L84.10,359.78 L86.10,360.99 L88.10,362.19 L90.10,363.37 L92.10,364.54 L94.10,365.70 L96.10,366.84 L98.10,367.97 L100.10,369.09 L102.10,370.20 L104.10,371.30 L106.10,372.39 L108.10,373.46 L110.10,374.53 L112.10,375.59 L114.10,376.64 L116.10,377.67 L118.10,378.71 L120.10,379.73 L122.10,380.74 L124.10,381.75 L126.10,382.75 L128.10,383.74 L130.10,384.72 L132.10,385.70 L134.10,386.67 L136.10,387.64 L138.10,388.60 L140.10,389.55 L142.10,390.50 L144.10,391.45 L146.10,392.39 L148.10,393.32 L150.10,394.25 L152.10,395.18 L154.10,396.10 L156.10,397.02 L158.10,397.93 L160.10,398.85 L162.10,399.76 L164.10,400.66 L166.10,401.57 L168.10,402.47 L170.10,403.37 L172.10,404.26 L174.10,405.16 L176.10,406.05 L178.10,406.94 L180.10,407.83 L182.10,408.72 L184.10,409.61 L186.10,410.49 L188.10,411.38 L190.10,412.26 L192.10,413.14 L194.10,414.02 L196.10,414.91 L198.10,415.79 L200.10,416.67 L202.10,417.55 L204.10,418.43 L206.10,419.31 L208.10,420.19 L210.10,421.07 L212.10,421.95 L214.10,422.83 L216.10,423.71 L218.10,424.58 L220.10,425.46 L222.10,426.34 L224.10,427.22 L226.10,428.11 L228.10,428.99 L230.10,429.87 L232.10,430.75 L234.10,431.63 L236.10,432.51 L238.10,433.39 L240.10,434.27 L242.10,435.15 L244.10,436.04 L246.10,436.92 L248.10,437.80 L250.10,438.68 L252.10,439.56 L254.10,440.44 L256.10,441.32 L258.10,442.20 L260.10,443.08 L262.10,443.96 L264.10,444.84 L266.10,445.72 L268.10,446.60 L270.10,447.48 L272.10,448.35 L274.10,449.22 L276.10,450.10 L278.10,450.97 L280.10,451.84 L282.10,452.71 L284.10,453.57 L286.10,454.44 L288.10,455.30 L290.10,456.16 L292.10,457.01 L294.10,457.87 L296.10,458.72 L298.10,459.57 L300.10,460.41 L302.10,461.25 L304.10,462.09 L306.10,462.93 L308.10,463.76 L310.00,464.54" stroke="#2a2af5" stroke-width="1.10" fill="none" stroke-linejoin="round" stroke-linecap="butt" opacity="1.00"/>
<path d="M35.00,338.30 L39.10,344.40 L42.60,349.90 L46.70,356.00 L52.20,356.70 L57.80,357.50 L62.40,359.60 L67.40,362.60 L71.50,364.40 L74.00,364.40 L82.10,364.20 L88.20,363.00 L93.70,361.20 L100.30,363.70 L107.40,366.50 L116.50,369.80 L124.00,376.00 L129.60,380.10 L139.20,383.20 L152.30,387.40 L162.50,388.50 L170.00,389.30 L186.10,390.90 L198.90,392.50 L211.00,394.10 L223.00,393.70 L237.40,393.20 L250.30,393.70 L271.30,394.50" stroke="#1a1a1a" stroke-width="1.20" fill="none" stroke-linejoin="round" stroke-linecap="butt" opacity="1.00"/>
</g>
<rect x="34.60" y="254.10" width="296.00" height="206.60" fill="none" stroke="#4a4a4a" stroke-width="1.3"/>
<path d="M40.52,460.70v-3.20M40.52,254.10v3.20M46.44,460.70v-3.20M46.44,254.10v3.20M52.36,460.70v-3.20M52.36,254.10v3.20M58.28,460.70v-3.20M58.28,254.10v3.20M64.20,460.70v-6.00M64.20,254.10v6.00M70.12,460.70v-3.20M70.12,254.10v3.20M76.04,460.70v-3.20M76.04,254.10v3.20M81.96,460.70v-3.20M81.96,254.10v3.20M87.88,460.70v-3.20M87.88,254.10v3.20M93.80,460.70v-6.00M93.80,254.10v6.00M99.72,460.70v-3.20M99.72,254.10v3.20M105.64,460.70v-3.20M105.64,254.10v3.20M111.56,460.70v-3.20M111.56,254.10v3.20M117.48,460.70v-3.20M117.48,254.10v3.20M123.40,460.70v-6.00M123.40,254.10v6.00M129.32,460.70v-3.20M129.32,254.10v3.20M135.24,460.70v-3.20M135.24,254.10v3.20M141.16,460.70v-3.20M141.16,254.10v3.20M147.08,460.70v-3.20M147.08,254.10v3.20M153.00,460.70v-6.00M153.00,254.10v6.00M158.92,460.70v-3.20M158.92,254.10v3.20M164.84,460.70v-3.20M164.84,254.10v3.20M170.76,460.70v-3.20M170.76,254.10v3.20M176.68,460.70v-3.20M176.68,254.10v3.20M182.60,460.70v-6.00M182.60,254.10v6.00M188.52,460.70v-3.20M188.52,254.10v3.20M194.44,460.70v-3.20M194.44,254.10v3.20M200.36,460.70v-3.20M200.36,254.10v3.20M206.28,460.70v-3.20M206.28,254.10v3.20M212.20,460.70v-6.00M212.20,254.10v6.00M218.12,460.70v-3.20M218.12,254.10v3.20M224.04,460.70v-3.20M224.04,254.10v3.20M229.96,460.70v-3.20M229.96,254.10v3.20M235.88,460.70v-3.20M235.88,254.10v3.20M241.80,460.70v-6.00M241.80,254.10v6.00M247.72,460.70v-3.20M247.72,254.10v3.20M253.64,460.70v-3.20M253.64,254.10v3.20M259.56,460.70v-3.20M259.56,254.10v3.20M265.48,460.70v-3.20M265.48,254.10v3.20M271.40,460.70v-6.00M271.40,254.10v6.00M277.32,460.70v-3.20M277.32,254.10v3.20M283.24,460.70v-3.20M283.24,254.10v3.20M289.16,460.70v-3.20M289.16,254.10v3.20M295.08,460.70v-3.20M295.08,254.10v3.20M301.00,460.70v-6.00M301.00,254.10v6.00M306.92,460.70v-3.20M306.92,254.10v3.20M312.84,460.70v-3.20M312.84,254.10v3.20M318.76,460.70v-3.20M318.76,254.10v3.20M324.68,460.70v-3.20M324.68,254.10v3.20M34.60,451.82h3.20M330.60,451.82h-3.20M34.60,446.62h3.20M330.60,446.62h-3.20M34.60,442.93h3.20M330.60,442.93h-3.20M34.60,440.07h3.20M330.60,440.07h-3.20M34.60,437.73h3.20M330.60,437.73h-3.20M34.60,435.76h3.20M330.60,435.76h-3.20M34.60,434.05h3.20M330.60,434.05h-3.20M34.60,432.54h3.20M330.60,432.54h-3.20M34.60,431.19h6.00M330.60,431.19h-6.00M34.60,422.30h3.20M330.60,422.30h-3.20M34.60,417.10h3.20M330.60,417.10h-3.20M34.60,413.42h3.20M330.60,413.42h-3.20M34.60,410.56h3.20M330.60,410.56h-3.20M34.60,408.22h3.20M330.60,408.22h-3.20M34.60,406.24h3.20M330.60,406.24h-3.20M34.60,404.53h3.20M330.60,404.53h-3.20M34.60,403.02h3.20M330.60,403.02h-3.20M34.60,401.67h6.00M330.60,401.67h-6.00M34.60,392.79h3.20M330.60,392.79h-3.20M34.60,387.59h3.20M330.60,387.59h-3.20M34.60,383.90h3.20M330.60,383.90h-3.20M34.60,381.04h3.20M330.60,381.04h-3.20M34.60,378.70h3.20M330.60,378.70h-3.20M34.60,376.73h3.20M330.60,376.73h-3.20M34.60,375.02h3.20M330.60,375.02h-3.20M34.60,373.51h3.20M330.60,373.51h-3.20M34.60,372.16h6.00M330.60,372.16h-6.00M34.60,363.27h3.20M330.60,363.27h-3.20M34.60,358.08h3.20M330.60,358.08h-3.20M34.60,354.39h3.20M330.60,354.39h-3.20M34.60,351.53h3.20M330.60,351.53h-3.20M34.60,349.19h3.20M330.60,349.19h-3.20M34.60,347.21h3.20M330.60,347.21h-3.20M34.60,345.50h3.20M330.60,345.50h-3.20M34.60,343.99h3.20M330.60,343.99h-3.20M34.60,342.64h6.00M330.60,342.64h-6.00M34.60,333.76h3.20M330.60,333.76h-3.20M34.60,328.56h3.20M330.60,328.56h-3.20M34.60,324.87h3.20M330.60,324.87h-3.20M34.60,322.01h3.20M330.60,322.01h-3.20M34.60,319.68h3.20M330.60,319.68h-3.20M34.60,317.70h3.20M330.60,317.70h-3.20M34.60,315.99h3.20M330.60,315.99h-3.20M34.60,314.48h3.20M330.60,314.48h-3.20M34.60,313.13h6.00M330.60,313.13h-6.00M34.60,304.24h3.20M330.60,304.24h-3.20M34.60,299.05h3.20M330.60,299.05h-3.20M34.60,295.36h3.20M330.60,295.36h-3.20M34.60,292.50h3.20M330.60,292.50h-3.20M34.60,290.16h3.20M330.60,290.16h-3.20M34.60,288.19h3.20M330.60,288.19h-3.20M34.60,286.47h3.20M330.60,286.47h-3.20M34.60,284.96h3.20M330.60,284.96h-3.20M34.60,283.61h6.00M330.60,283.61h-6.00M34.60,274.73h3.20M330.60,274.73h-3.20M34.60,269.53h3.20M330.60,269.53h-3.20M34.60,265.84h3.20M330.60,265.84h-3.20M34.60,262.98h3.20M330.60,262.98h-3.20M34.60,260.65h3.20M330.60,260.65h-3.20M34.60,258.67h3.20M330.60,258.67h-3.20M34.60,256.96h3.20M330.60,256.96h-3.20M34.60,255.45h3.20M330.60,255.45h-3.20" stroke="#505050" stroke-width="0.9" fill="none"/>
<text x="35.70" y="471.00" font-size="9.90" text-anchor="middle"><tspan class="o">1</tspan></text>
<text x="64.20" y="471.00" font-size="9.90" text-anchor="middle"><tspan class="o">1</tspan>.5</text>
<text x="93.80" y="471.00" font-size="9.90" text-anchor="middle">2</text>
<text x="123.40" y="471.00" font-size="9.90" text-anchor="middle">2.5</text>
<text x="153.00" y="471.00" font-size="9.90" text-anchor="middle">3</text>
<text x="182.60" y="471.00" font-size="9.90" text-anchor="middle">3.5</text>
<text x="212.20" y="471.00" font-size="9.90" text-anchor="middle">4</text>
<text x="241.80" y="471.00" font-size="9.90" text-anchor="middle">4.5</text>
<text x="271.40" y="471.00" font-size="9.90" text-anchor="middle">5</text>
<text x="301.00" y="471.00" font-size="9.90" text-anchor="middle">5.5</text>
<text x="330.60" y="471.00" font-size="9.90" text-anchor="middle">6</text>
<text x="28.20" y="259.60" font-size="9.90" text-anchor="end"><tspan class="o">1</tspan>0</text>
<text x="28.20" y="253.60" font-size="7.00" text-anchor="start">4</text>
<text x="28.20" y="289.11" font-size="9.90" text-anchor="end"><tspan class="o">1</tspan>0</text>
<text x="28.20" y="283.11" font-size="7.00" text-anchor="start">3</text>
<text x="28.20" y="318.63" font-size="9.90" text-anchor="end"><tspan class="o">1</tspan>0</text>
<text x="28.20" y="312.63" font-size="7.00" text-anchor="start">2</text>
<text x="31.60" y="346.04" font-size="9.90" text-anchor="end"><tspan class="o">1</tspan>0</text>
<text x="33.65" y="376.06" font-size="9.90" text-anchor="end"><tspan class="o">1</tspan></text>
<text x="27.20" y="407.17" font-size="9.90" text-anchor="end"><tspan class="o">1</tspan>0</text>
<text x="27.20" y="401.17" font-size="7.00" text-anchor="start">-<tspan class="o">1</tspan></text>
<text x="26.05" y="436.69" font-size="9.90" text-anchor="end"><tspan class="o">1</tspan>0</text>
<text x="26.05" y="430.69" font-size="7.00" text-anchor="start">-2</text>
<text x="26.05" y="466.20" font-size="9.90" text-anchor="end"><tspan class="o">1</tspan>0</text>
<text x="26.05" y="460.20" font-size="7.00" text-anchor="start">-3</text>
<text x="183.10" y="487.30" font-size="11.35" text-anchor="middle">m<tspan font-size="7.6" dy="4" dx="-0.7">Z’</tspan><tspan dy="-4"> (TeV)</tspan></text>
<text transform="translate(9.70,357.10) rotate(-90)" font-size="10.5" text-anchor="middle">σ × Br (fb)</text>
<g clip-path="url(#c4)">
<path d="M386.00,337.22 L388.00,338.92 L390.00,340.60 L392.00,342.25 L394.00,343.88 L396.00,345.48 L398.00,347.06 L400.00,348.62 L402.00,350.15 L404.00,351.67 L406.00,353.16 L408.00,354.63 L410.00,356.08 L412.00,357.51 L414.00,358.92 L416.00,360.31 L418.00,361.68 L420.00,363.03 L422.00,364.36 L424.00,365.68 L426.00,366.98 L428.00,368.27 L430.00,369.53 L432.00,370.79 L434.00,372.02 L436.00,373.24 L438.00,374.45 L440.00,375.64 L442.00,376.82 L444.00,377.99 L446.00,379.14 L448.00,380.28 L450.00,381.41 L452.00,382.52 L454.00,383.62 L456.00,384.72 L458.00,385.80 L460.00,386.87 L462.00,387.93 L464.00,388.98 L466.00,390.02 L468.00,391.06 L470.00,392.08 L472.00,393.09 L474.00,394.10 L476.00,395.10 L478.00,396.09 L480.00,397.07 L482.00,398.05 L484.00,399.02 L486.00,399.98 L488.00,400.94 L490.00,401.89 L492.00,402.83 L494.00,403.77 L496.00,404.71 L498.00,405.63 L500.00,406.56 L502.00,407.48 L504.00,408.39 L506.00,409.31 L508.00,410.21 L510.00,411.12 L512.00,412.02 L514.00,412.91 L516.00,413.81 L518.00,414.70 L520.00,415.59 L522.00,416.47 L524.00,417.36 L526.00,418.24 L528.00,419.12 L530.00,420.00 L532.00,420.88 L534.00,421.75 L536.00,422.62 L538.00,423.50 L540.00,424.37 L542.00,425.24 L544.00,426.11 L546.00,426.98 L548.00,427.85 L550.00,428.72 L552.00,429.58 L554.00,430.45 L556.00,431.32 L558.00,432.19 L560.00,433.06 L562.00,433.93 L564.00,434.79 L566.00,435.66 L568.00,436.53 L570.00,437.40 L572.00,438.27 L574.00,439.14 L576.00,440.01 L578.00,440.89 L580.00,441.76 L582.00,442.63 L584.00,443.51 L586.00,444.38 L588.00,445.26 L590.00,446.14 L592.00,447.01 L594.00,447.89 L596.00,448.77 L598.00,449.65 L600.00,450.53 L602.00,451.41 L604.00,452.30 L606.00,453.18 L608.00,454.06 L610.00,454.95 L612.00,455.83 L614.00,456.72 L616.00,457.60 L618.00,458.49 L620.00,459.38 L622.00,460.26 L624.00,461.15 L626.00,462.04 L628.00,462.93 L630.00,463.82 L632.00,464.70" stroke="#2a9a2a" stroke-width="1.10" fill="none" stroke-linejoin="round" stroke-linecap="butt" opacity="1.00"/>
<path d="M386.00,324.32 L388.00,326.02 L390.00,327.70 L392.00,329.35 L394.00,330.98 L396.00,332.58 L398.00,334.15 L400.00,335.71 L402.00,337.24 L404.00,338.75 L406.00,340.23 L408.00,341.70 L410.00,343.14 L412.00,344.56 L414.00,345.97 L416.00,347.35 L418.00,348.71 L420.00,350.06 L422.00,351.39 L424.00,352.70 L426.00,353.99 L428.00,355.27 L430.00,356.53 L432.00,357.78 L434.00,359.01 L436.00,360.22 L438.00,361.42 L440.00,362.61 L442.00,363.78 L444.00,364.94 L446.00,366.09 L448.00,367.23 L450.00,368.35 L452.00,369.46 L454.00,370.56 L456.00,371.65 L458.00,372.73 L460.00,373.80 L462.00,374.86 L464.00,375.91 L466.00,376.95 L468.00,377.98 L470.00,379.00 L472.00,380.02 L474.00,381.03 L476.00,382.03 L478.00,383.02 L480.00,384.00 L482.00,384.98 L484.00,385.96 L486.00,386.92 L488.00,387.89 L490.00,388.84 L492.00,389.79 L494.00,390.74 L496.00,391.68 L498.00,392.62 L500.00,393.55 L502.00,394.48 L504.00,395.40 L506.00,396.32 L508.00,397.24 L510.00,398.15 L512.00,399.07 L514.00,399.98 L516.00,400.88 L518.00,401.79 L520.00,402.69 L522.00,403.59 L524.00,404.48 L526.00,405.38 L528.00,406.28 L530.00,407.17 L532.00,408.06 L534.00,408.95 L536.00,409.84 L538.00,410.73 L540.00,411.62 L542.00,412.50 L544.00,413.39 L546.00,414.28 L548.00,415.16 L550.00,416.05 L552.00,416.93 L554.00,417.82 L556.00,418.70 L558.00,419.59 L560.00,420.47 L562.00,421.36 L564.00,422.24 L566.00,423.13 L568.00,424.01 L570.00,424.90 L572.00,425.79 L574.00,426.67 L576.00,427.56 L578.00,428.44 L580.00,429.33 L582.00,430.22 L584.00,431.10 L586.00,431.99 L588.00,432.88 L590.00,433.76 L592.00,434.65 L594.00,435.54 L596.00,436.42 L598.00,437.31 L600.00,438.20 L602.00,439.08 L604.00,439.97 L606.00,440.85 L608.00,441.74 L610.00,442.62 L612.00,443.50 L614.00,444.39 L616.00,445.27 L618.00,446.15 L620.00,447.02 L622.00,447.90 L624.00,448.78 L626.00,449.65 L628.00,450.52 L630.00,451.39 L632.00,452.26 L634.00,453.12 L636.00,453.99 L638.00,454.85 L640.00,455.70 L642.00,456.56 L644.00,457.41 L646.00,458.25 L648.00,459.10 L650.00,459.93 L652.00,460.77 L654.00,461.60 L656.00,462.42 L658.00,463.24 L660.00,464.06 L662.00,464.87" stroke="#2a2af5" stroke-width="1.10" fill="none" stroke-linejoin="round" stroke-linecap="butt" opacity="1.00"/>
<path d="M386.60,336.30 L389.60,340.50 L392.10,345.40 L394.50,352.70 L396.90,360.00 L398.80,363.40 L404.20,363.60 L410.30,362.40 L415.20,361.20 L420.00,364.80 L423.70,367.90 L426.00,369.40 L430.00,370.30 L433.60,370.10 L437.10,371.50 L441.20,372.80 L445.20,372.30 L448.30,373.30 L452.30,375.40 L456.40,379.90 L460.40,379.90 L466.50,379.40 L470.50,379.40 L476.00,380.50 L481.10,381.10 L486.10,381.60 L492.20,381.10 L498.30,381.40 L504.30,384.70 L510.40,387.20 L518.50,387.40 L526.00,387.50 L533.00,388.40 L540.00,390.00 L545.30,390.80 L551.70,389.60 L558.10,387.60 L563.40,388.40 L569.20,391.40 L576.20,393.70 L584.40,394.90 L592.60,395.70 L599.80,396.30" stroke="#1a1a1a" stroke-width="1.20" fill="none" stroke-linejoin="round" stroke-linecap="butt" opacity="1.00"/>
</g>
<rect x="386.50" y="254.10" width="295.70" height="206.60" fill="none" stroke="#4a4a4a" stroke-width="1.3"/>
<path d="M392.41,460.70v-3.20M392.41,254.10v3.20M398.33,460.70v-3.20M398.33,254.10v3.20M404.24,460.70v-3.20M404.24,254.10v3.20M410.16,460.70v-3.20M410.16,254.10v3.20M416.07,460.70v-6.00M416.07,254.10v6.00M421.98,460.70v-3.20M421.98,254.10v3.20M427.90,460.70v-3.20M427.90,254.10v3.20M433.81,460.70v-3.20M433.81,254.10v3.20M439.73,460.70v-3.20M439.73,254.10v3.20M445.64,460.70v-6.00M445.64,254.10v6.00M451.55,460.70v-3.20M451.55,254.10v3.20M457.47,460.70v-3.20M457.47,254.10v3.20M463.38,460.70v-3.20M463.38,254.10v3.20M469.30,460.70v-3.20M469.30,254.10v3.20M475.21,460.70v-6.00M475.21,254.10v6.00M481.12,460.70v-3.20M481.12,254.10v3.20M487.04,460.70v-3.20M487.04,254.10v3.20M492.95,460.70v-3.20M492.95,254.10v3.20M498.87,460.70v-3.20M498.87,254.10v3.20M504.78,460.70v-6.00M504.78,254.10v6.00M510.69,460.70v-3.20M510.69,254.10v3.20M516.61,460.70v-3.20M516.61,254.10v3.20M522.52,460.70v-3.20M522.52,254.10v3.20M528.44,460.70v-3.20M528.44,254.10v3.20M534.35,460.70v-6.00M534.35,254.10v6.00M540.26,460.70v-3.20M540.26,254.10v3.20M546.18,460.70v-3.20M546.18,254.10v3.20M552.09,460.70v-3.20M552.09,254.10v3.20M558.01,460.70v-3.20M558.01,254.10v3.20M563.92,460.70v-6.00M563.92,254.10v6.00M569.83,460.70v-3.20M569.83,254.10v3.20M575.75,460.70v-3.20M575.75,254.10v3.20M581.66,460.70v-3.20M581.66,254.10v3.20M587.58,460.70v-3.20M587.58,254.10v3.20M593.49,460.70v-6.00M593.49,254.10v6.00M599.40,460.70v-3.20M599.40,254.10v3.20M605.32,460.70v-3.20M605.32,254.10v3.20M611.23,460.70v-3.20M611.23,254.10v3.20M617.15,460.70v-3.20M617.15,254.10v3.20M623.06,460.70v-6.00M623.06,254.10v6.00M628.97,460.70v-3.20M628.97,254.10v3.20M634.89,460.70v-3.20M634.89,254.10v3.20M640.80,460.70v-3.20M640.80,254.10v3.20M646.72,460.70v-3.20M646.72,254.10v3.20M652.63,460.70v-6.00M652.63,254.10v6.00M658.54,460.70v-3.20M658.54,254.10v3.20M664.46,460.70v-3.20M664.46,254.10v3.20M670.37,460.70v-3.20M670.37,254.10v3.20M676.29,460.70v-3.20M676.29,254.10v3.20M386.50,451.82h3.20M682.20,451.82h-3.20M386.50,446.62h3.20M682.20,446.62h-3.20M386.50,442.93h3.20M682.20,442.93h-3.20M386.50,440.07h3.20M682.20,440.07h-3.20M386.50,437.73h3.20M682.20,437.73h-3.20M386.50,435.76h3.20M682.20,435.76h-3.20M386.50,434.05h3.20M682.20,434.05h-3.20M386.50,432.54h3.20M682.20,432.54h-3.20M386.50,431.19h6.00M682.20,431.19h-6.00M386.50,422.30h3.20M682.20,422.30h-3.20M386.50,417.10h3.20M682.20,417.10h-3.20M386.50,413.42h3.20M682.20,413.42h-3.20M386.50,410.56h3.20M682.20,410.56h-3.20M386.50,408.22h3.20M682.20,408.22h-3.20M386.50,406.24h3.20M682.20,406.24h-3.20M386.50,404.53h3.20M682.20,404.53h-3.20M386.50,403.02h3.20M682.20,403.02h-3.20M386.50,401.67h6.00M682.20,401.67h-6.00M386.50,392.79h3.20M682.20,392.79h-3.20M386.50,387.59h3.20M682.20,387.59h-3.20M386.50,383.90h3.20M682.20,383.90h-3.20M386.50,381.04h3.20M682.20,381.04h-3.20M386.50,378.70h3.20M682.20,378.70h-3.20M386.50,376.73h3.20M682.20,376.73h-3.20M386.50,375.02h3.20M682.20,375.02h-3.20M386.50,373.51h3.20M682.20,373.51h-3.20M386.50,372.16h6.00M682.20,372.16h-6.00M386.50,363.27h3.20M682.20,363.27h-3.20M386.50,358.08h3.20M682.20,358.08h-3.20M386.50,354.39h3.20M682.20,354.39h-3.20M386.50,351.53h3.20M682.20,351.53h-3.20M386.50,349.19h3.20M682.20,349.19h-3.20M386.50,347.21h3.20M682.20,347.21h-3.20M386.50,345.50h3.20M682.20,345.50h-3.20M386.50,343.99h3.20M682.20,343.99h-3.20M386.50,342.64h6.00M682.20,342.64h-6.00M386.50,333.76h3.20M682.20,333.76h-3.20M386.50,328.56h3.20M682.20,328.56h-3.20M386.50,324.87h3.20M682.20,324.87h-3.20M386.50,322.01h3.20M682.20,322.01h-3.20M386.50,319.68h3.20M682.20,319.68h-3.20M386.50,317.70h3.20M682.20,317.70h-3.20M386.50,315.99h3.20M682.20,315.99h-3.20M386.50,314.48h3.20M682.20,314.48h-3.20M386.50,313.13h6.00M682.20,313.13h-6.00M386.50,304.24h3.20M682.20,304.24h-3.20M386.50,299.05h3.20M682.20,299.05h-3.20M386.50,295.36h3.20M682.20,295.36h-3.20M386.50,292.50h3.20M682.20,292.50h-3.20M386.50,290.16h3.20M682.20,290.16h-3.20M386.50,288.19h3.20M682.20,288.19h-3.20M386.50,286.47h3.20M682.20,286.47h-3.20M386.50,284.96h3.20M682.20,284.96h-3.20M386.50,283.61h6.00M682.20,283.61h-6.00M386.50,274.73h3.20M682.20,274.73h-3.20M386.50,269.53h3.20M682.20,269.53h-3.20M386.50,265.84h3.20M682.20,265.84h-3.20M386.50,262.98h3.20M682.20,262.98h-3.20M386.50,260.65h3.20M682.20,260.65h-3.20M386.50,258.67h3.20M682.20,258.67h-3.20M386.50,256.96h3.20M682.20,256.96h-3.20M386.50,255.45h3.20M682.20,255.45h-3.20" stroke="#505050" stroke-width="0.9" fill="none"/>
<text x="387.60" y="471.00" font-size="9.90" text-anchor="middle"><tspan class="o">1</tspan></text>
<text x="416.07" y="471.00" font-size="9.90" text-anchor="middle"><tspan class="o">1</tspan>.5</text>
<text x="445.64" y="471.00" font-size="9.90" text-anchor="middle">2</text>
<text x="475.21" y="471.00" font-size="9.90" text-anchor="middle">2.5</text>
<text x="504.78" y="471.00" font-size="9.90" text-anchor="middle">3</text>
<text x="534.35" y="471.00" font-size="9.90" text-anchor="middle">3.5</text>
<text x="563.92" y="471.00" font-size="9.90" text-anchor="middle">4</text>
<text x="593.49" y="471.00" font-size="9.90" text-anchor="middle">4.5</text>
<text x="623.06" y="471.00" font-size="9.90" text-anchor="middle">5</text>
<text x="652.63" y="471.00" font-size="9.90" text-anchor="middle">5.5</text>
<text x="682.20" y="471.00" font-size="9.90" text-anchor="middle">6</text>
<text x="380.10" y="259.60" font-size="9.90" text-anchor="end"><tspan class="o">1</tspan>0</text>
<text x="380.10" y="253.60" font-size="7.00" text-anchor="start">4</text>
<text x="380.10" y="289.11" font-size="9.90" text-anchor="end"><tspan class="o">1</tspan>0</text>
<text x="380.10" y="283.11" font-size="7.00" text-anchor="start">3</text>
<text x="380.10" y="318.63" font-size="9.90" text-anchor="end"><tspan class="o">1</tspan>0</text>
<text x="380.10" y="312.63" font-size="7.00" text-anchor="start">2</text>
<text x="383.50" y="346.04" font-size="9.90" text-anchor="end"><tspan class="o">1</tspan>0</text>
<text x="385.55" y="376.06" font-size="9.90" text-anchor="end"><tspan class="o">1</tspan></text>
<text x="379.10" y="407.17" font-size="9.90" text-anchor="end"><tspan class="o">1</tspan>0</text>
<text x="379.10" y="401.17" font-size="7.00" text-anchor="start">-<tspan class="o">1</tspan></text>
<text x="377.95" y="436.69" font-size="9.90" text-anchor="end"><tspan class="o">1</tspan>0</text>
<text x="377.95" y="430.69" font-size="7.00" text-anchor="start">-2</text>
<text x="377.95" y="466.20" font-size="9.90" text-anchor="end"><tspan class="o">1</tspan>0</text>
<text x="377.95" y="460.20" font-size="7.00" text-anchor="start">-3</text>
<text x="534.85" y="487.30" font-size="11.35" text-anchor="middle">m<tspan font-size="7.6" dy="4" dx="-0.7">Z’</tspan><tspan dy="-4"> (TeV)</tspan></text>
<text transform="translate(361.60,357.10) rotate(-90)" font-size="10.5" text-anchor="middle">σ × Br (fb)</text>
<text x="51.00" y="25.70" font-size="10.8">Z</text>
<path d="M59.10,18.60L57.90,20.80" stroke="#222" stroke-width="0.95" stroke-linecap="round" fill="none"/>
<path d="M63.00,23.20H71.30" stroke="#222" stroke-width="0.9" fill="none"/>
<path d="M69.20,20.60Q69.80,22.60 71.60,23.20Q69.80,23.80 69.20,25.80" stroke="#222" stroke-width="0.8" fill="none"/>
<text x="77.60" y="25.70" font-size="10.6">jj</text>
<text x="402.60" y="25.70" font-size="10.8">Z</text>
<path d="M410.70,18.60L409.50,20.80" stroke="#222" stroke-width="0.95" stroke-linecap="round" fill="none"/>
<path d="M413.80,23.20H422.90" stroke="#222" stroke-width="0.9" fill="none"/>
<path d="M420.80,20.60Q421.40,22.60 423.20,23.20Q421.40,23.80 420.80,25.80" stroke="#222" stroke-width="0.8" fill="none"/>
<text x="428.80" y="25.70" font-size="10.6">tt</text>
<path d="M431.90,16.40h2.80" stroke="#333" stroke-width="0.8"/>
<text x="50.80" y="272.60" font-size="10.8">Z</text>
<path d="M58.90,265.50L57.70,267.70" stroke="#222" stroke-width="0.95" stroke-linecap="round" fill="none"/>
<path d="M63.00,270.10H71.40" stroke="#222" stroke-width="0.9" fill="none"/>
<path d="M69.30,267.50Q69.90,269.50 71.70,270.10Q69.90,270.70 69.30,272.70" stroke="#222" stroke-width="0.8" fill="none"/>
<text x="77.60" y="272.60" font-size="10.6" textLength="18.3" lengthAdjust="spacingAndGlyphs">WW</text>
<text x="402.60" y="272.60" font-size="10.8">Z</text>
<path d="M410.70,265.50L409.50,267.70" stroke="#222" stroke-width="0.95" stroke-linecap="round" fill="none"/>
<path d="M414.10,270.10H422.90" stroke="#222" stroke-width="0.9" fill="none"/>
<path d="M420.80,267.50Q421.40,269.50 423.20,270.10Q421.40,270.70 420.80,272.70" stroke="#222" stroke-width="0.8" fill="none"/>
<text x="429.00" y="272.60" font-size="10.6" textLength="11.0" lengthAdjust="spacingAndGlyphs">Zh</text>
<rect x="221.40" y="21.40" width="99.60" height="51.80" fill="#fff" stroke="#3a3a3a" stroke-width="1"/>
<path d="M224.40,29.00h12" stroke="#c39595" stroke-width="1.1" opacity="0.9"/>
<text x="242.40" y="33.70" font-size="8.4">95% CL limit 36 fb<tspan font-size="5.8" dy="-5.0">-<tspan class="o">1</tspan></tspan></text>
<path d="M224.40,41.30h12" stroke="#1a1a1a" stroke-width="1.0" opacity="0.9"/>
<text x="242.40" y="46.00" font-size="8.4">95% CL limit <tspan class="o">1</tspan>37 fb<tspan font-size="5.8" dy="-5.0">-<tspan class="o">1</tspan></tspan></text>
<path d="M224.40,53.60h12" stroke="#2a2af5" stroke-width="1.1" opacity="0.7"/>
<text x="242.40" y="54.90" font-size="8.4">g<tspan font-size="6.2" dy="3.2">Z’</tspan><tspan dy="-3.2"> = 0.5</tspan></text>
<path d="M224.40,65.90h12" stroke="#2a9a2a" stroke-width="1.1" opacity="0.7"/>
<text x="242.40" y="67.20" font-size="8.4">g<tspan font-size="6.2" dy="3.2">Z’</tspan><tspan dy="-3.2"> = 0.3</tspan></text>
<rect x="572.90" y="21.40" width="99.60" height="51.80" fill="#fff" stroke="#3a3a3a" stroke-width="1"/>
<path d="M575.90,29.00h12" stroke="#c39595" stroke-width="1.1" opacity="0.9"/>
<text x="593.90" y="33.70" font-size="8.4">95% CL limit 36 fb<tspan font-size="5.8" dy="-5.0">-<tspan class="o">1</tspan></tspan></text>
<path d="M575.90,41.30h12" stroke="#1a1a1a" stroke-width="1.0" opacity="0.9"/>
<text x="593.90" y="46.00" font-size="8.4">95% CL limit <tspan class="o">1</tspan>39 fb<tspan font-size="5.8" dy="-5.0">-<tspan class="o">1</tspan></tspan></text>
<path d="M575.90,53.60h12" stroke="#2a2af5" stroke-width="1.1" opacity="0.7"/>
<text x="593.90" y="54.90" font-size="8.4">g<tspan font-size="6.2" dy="3.2">Z’</tspan><tspan dy="-3.2"> = 0.5</tspan></text>
<path d="M575.90,65.90h12" stroke="#2a9a2a" stroke-width="1.1" opacity="0.7"/>
<text x="593.90" y="67.20" font-size="8.4">g<tspan font-size="6.2" dy="3.2">Z’</tspan><tspan dy="-3.2"> = 0.3</tspan></text>
<rect x="221.40" y="269.00" width="99.60" height="39.50" fill="#fff" stroke="#3a3a3a" stroke-width="1"/>
<path d="M224.40,276.60h12" stroke="#1a1a1a" stroke-width="1.0" opacity="0.9"/>
<text x="242.40" y="281.30" font-size="8.4">95% CL limit <tspan class="o">1</tspan>39 fb<tspan font-size="5.8" dy="-5.0">-<tspan class="o">1</tspan></tspan></text>
<path d="M224.40,288.90h12" stroke="#2a2af5" stroke-width="1.1" opacity="0.7"/>
<text x="242.40" y="290.20" font-size="8.4">g<tspan font-size="6.2" dy="3.2">Z’</tspan><tspan dy="-3.2"> = 0.5</tspan></text>
<path d="M224.40,301.20h12" stroke="#2a9a2a" stroke-width="1.1" opacity="0.7"/>
<text x="242.40" y="302.50" font-size="8.4">g<tspan font-size="6.2" dy="3.2">Z’</tspan><tspan dy="-3.2"> = 0.3</tspan></text>
<rect x="573.00" y="269.00" width="99.60" height="39.50" fill="#fff" stroke="#3a3a3a" stroke-width="1"/>
<path d="M576.00,276.60h12" stroke="#1a1a1a" stroke-width="1.0" opacity="0.9"/>
<text x="594.00" y="281.30" font-size="8.4">95% CL limit <tspan class="o">1</tspan>37 fb<tspan font-size="5.8" dy="-5.0">-<tspan class="o">1</tspan></tspan></text>
<path d="M576.00,288.90h12" stroke="#2a2af5" stroke-width="1.1" opacity="0.7"/>
<text x="594.00" y="290.20" font-size="8.4">g<tspan font-size="6.2" dy="3.2">Z’</tspan><tspan dy="-3.2"> = 0.5</tspan></text>
<path d="M576.00,301.20h12" stroke="#2a9a2a" stroke-width="1.1" opacity="0.7"/>
<text x="594.00" y="302.50" font-size="8.4">g<tspan font-size="6.2" dy="3.2">Z’</tspan><tspan dy="-3.2"> = 0.3</tspan></text>
<rect x="47.50" y="181.40" width="57.9" height="17" fill="#fff" stroke="#383838" stroke-width="1.2"/>
<text x="52.80" y="193.80" font-size="9.85" text-anchor="start">Scenario <tspan class="o">1</tspan></text>
<rect x="399.30" y="181.40" width="57.9" height="17" fill="#fff" stroke="#383838" stroke-width="1.2"/>
<text x="404.60" y="193.80" font-size="9.85" text-anchor="start">Scenario <tspan class="o">1</tspan></text>
<rect x="47.50" y="428.50" width="57.9" height="17" fill="#fff" stroke="#383838" stroke-width="1.2"/>
<text x="52.80" y="440.90" font-size="9.85" text-anchor="start">Scenario <tspan class="o">1</tspan></text>
<rect x="399.40" y="428.50" width="57.9" height="17" fill="#fff" stroke="#383838" stroke-width="1.2"/>
<text x="404.70" y="440.90" font-size="9.85" text-anchor="start">Scenario <tspan class="o">1</tspan></text>
<path d="M35.44,223.90 L35.44,217.92 L33.90,219.02 L33.90,218.20 L35.51,217.09 L36.31,217.09 L36.31,223.90Z M59.81,223.90 L59.81,217.92 L58.28,219.02 L58.28,218.20 L59.89,217.09 L60.69,217.09 L60.69,223.90Z M19.69,12.00 L19.69,6.02 L18.15,7.12 L18.15,6.30 L19.76,5.19 L20.56,5.19 L20.56,12.00Z M19.69,41.59 L19.69,35.61 L18.15,36.71 L18.15,35.89 L19.76,34.78 L20.56,34.78 L20.56,41.59Z M19.69,71.17 L19.69,65.19 L18.15,66.29 L18.15,65.47 L19.76,64.36 L20.56,64.36 L20.56,71.17Z M23.09,98.66 L23.09,92.68 L21.55,93.78 L21.55,92.96 L23.16,91.85 L23.96,91.85 L23.96,98.66Z M30.64,128.74 L30.64,122.76 L29.10,123.86 L29.10,123.04 L30.71,121.93 L31.51,121.93 L31.51,128.74Z M18.69,159.93 L18.69,153.95 L17.15,155.05 L17.15,154.23 L18.76,153.12 L19.56,153.12 L19.56,159.93Z M31.30,153.93 L31.30,149.70 L30.22,150.48 L30.22,149.90 L31.36,149.11 L31.92,149.11 L31.92,153.93Z M17.54,189.51 L17.54,183.53 L16.00,184.63 L16.00,183.81 L17.61,182.70 L18.41,182.70 L18.41,189.51Z M17.54,219.10 L17.54,213.12 L16.00,214.22 L16.00,213.40 L17.61,212.29 L18.41,212.29 L18.41,219.10Z M387.24,223.90 L387.24,217.92 L385.70,219.02 L385.70,218.20 L387.31,217.09 L388.11,217.09 L388.11,223.90Z M411.58,223.90 L411.58,217.92 L410.05,219.02 L410.05,218.20 L411.66,217.09 L412.46,217.09 L412.46,223.90Z M371.49,12.00 L371.49,6.02 L369.95,7.12 L369.95,6.30 L371.56,5.19 L372.36,5.19 L372.36,12.00Z M371.49,41.59 L371.49,35.61 L369.95,36.71 L369.95,35.89 L371.56,34.78 L372.36,34.78 L372.36,41.59Z M371.49,71.17 L371.49,65.19 L369.95,66.29 L369.95,65.47 L371.56,64.36 L372.36,64.36 L372.36,71.17Z M374.89,98.66 L374.89,92.68 L373.35,93.78 L373.35,92.96 L374.96,91.85 L375.76,91.85 L375.76,98.66Z M382.44,128.74 L382.44,122.76 L380.90,123.86 L380.90,123.04 L382.51,121.93 L383.31,121.93 L383.31,128.74Z M370.49,159.93 L370.49,153.95 L368.95,155.05 L368.95,154.23 L370.56,153.12 L371.36,153.12 L371.36,159.93Z M383.10,153.93 L383.10,149.70 L382.02,150.48 L382.02,149.90 L383.16,149.11 L383.72,149.11 L383.72,153.93Z M369.34,189.51 L369.34,183.53 L367.80,184.63 L367.80,183.81 L369.41,182.70 L370.21,182.70 L370.21,189.51Z M369.34,219.10 L369.34,213.12 L367.80,214.22 L367.80,213.40 L369.41,212.29 L370.21,212.29 L370.21,219.10Z M35.44,471.00 L35.44,465.02 L33.90,466.12 L33.90,465.30 L35.51,464.19 L36.31,464.19 L36.31,471.00Z M59.81,471.00 L59.81,465.02 L58.28,466.12 L58.28,465.30 L59.89,464.19 L60.69,464.19 L60.69,471.00Z M19.69,259.60 L19.69,253.62 L18.15,254.72 L18.15,253.90 L19.76,252.79 L20.56,252.79 L20.56,259.60Z M19.69,289.11 L19.69,283.13 L18.15,284.23 L18.15,283.41 L19.76,282.30 L20.56,282.30 L20.56,289.11Z M19.69,318.63 L19.69,312.65 L18.15,313.75 L18.15,312.93 L19.76,311.82 L20.56,311.82 L20.56,318.63Z M23.09,346.04 L23.09,340.06 L21.55,341.16 L21.55,340.34 L23.16,339.23 L23.96,339.23 L23.96,346.04Z M30.64,376.06 L30.64,370.08 L29.10,371.18 L29.10,370.36 L30.71,369.25 L31.51,369.25 L31.51,376.06Z M18.69,407.17 L18.69,401.19 L17.15,402.29 L17.15,401.47 L18.76,400.36 L19.56,400.36 L19.56,407.17Z M31.30,401.17 L31.30,396.94 L30.22,397.72 L30.22,397.14 L31.36,396.35 L31.92,396.35 L31.92,401.17Z M17.54,436.69 L17.54,430.71 L16.00,431.81 L16.00,430.99 L17.61,429.88 L18.41,429.88 L18.41,436.69Z M17.54,466.20 L17.54,460.22 L16.00,461.32 L16.00,460.50 L17.61,459.39 L18.41,459.39 L18.41,466.20Z M387.34,471.00 L387.34,465.02 L385.80,466.12 L385.80,465.30 L387.41,464.19 L388.21,464.19 L388.21,471.00Z M411.68,471.00 L411.68,465.02 L410.15,466.12 L410.15,465.30 L411.76,464.19 L412.56,464.19 L412.56,471.00Z M371.59,259.60 L371.59,253.62 L370.05,254.72 L370.05,253.90 L371.66,252.79 L372.46,252.79 L372.46,259.60Z M371.59,289.11 L371.59,283.13 L370.05,284.23 L370.05,283.41 L371.66,282.30 L372.46,282.30 L372.46,289.11Z M371.59,318.63 L371.59,312.65 L370.05,313.75 L370.05,312.93 L371.66,311.82 L372.46,311.82 L372.46,318.63Z M374.99,346.04 L374.99,340.06 L373.45,341.16 L373.45,340.34 L375.06,339.23 L375.86,339.23 L375.86,346.04Z M382.54,376.06 L382.54,370.08 L381.00,371.18 L381.00,370.36 L382.61,369.25 L383.41,369.25 L383.41,376.06Z M370.59,407.17 L370.59,401.19 L369.05,402.29 L369.05,401.47 L370.66,400.36 L371.46,400.36 L371.46,407.17Z M383.20,401.17 L383.20,396.94 L382.12,397.72 L382.12,397.14 L383.26,396.35 L383.82,396.35 L383.82,401.17Z M369.44,436.69 L369.44,430.71 L367.90,431.81 L367.90,430.99 L369.51,429.88 L370.31,429.88 L370.31,436.69Z M369.44,466.20 L369.44,460.22 L367.90,461.32 L367.90,460.50 L369.51,459.39 L370.31,459.39 L370.31,466.20Z M313.45,28.70 L313.45,25.20 L312.55,25.84 L312.55,25.36 L313.49,24.71 L313.96,24.71 L313.96,28.70Z M293.54,46.00 L293.54,40.93 L292.24,41.86 L292.24,41.16 L293.61,40.22 L294.29,40.22 L294.29,46.00Z M318.14,41.00 L318.14,37.50 L317.24,38.14 L317.24,37.66 L318.18,37.01 L318.65,37.01 L318.65,41.00Z M664.95,28.70 L664.95,25.20 L664.05,25.84 L664.05,25.36 L664.99,24.71 L665.46,24.71 L665.46,28.70Z M645.04,46.00 L645.04,40.93 L643.74,41.86 L643.74,41.16 L645.11,40.22 L645.79,40.22 L645.79,46.00Z M669.64,41.00 L669.64,37.50 L668.74,38.14 L668.74,37.66 L669.68,37.01 L670.15,37.01 L670.15,41.00Z M293.54,281.30 L293.54,276.23 L292.24,277.16 L292.24,276.46 L293.61,275.52 L294.29,275.52 L294.29,281.30Z M318.14,276.30 L318.14,272.80 L317.24,273.44 L317.24,272.96 L318.18,272.31 L318.65,272.31 L318.65,276.30Z M645.14,281.30 L645.14,276.23 L643.84,277.16 L643.84,276.46 L645.21,275.52 L645.89,275.52 L645.89,281.30Z M669.74,276.30 L669.74,272.80 L668.84,273.44 L668.84,272.96 L669.78,272.31 L670.25,272.31 L670.25,276.30Z M96.87,193.80 L96.87,187.85 L95.34,188.94 L95.34,188.12 L96.94,187.02 L97.74,187.02 L97.74,193.80Z M448.67,193.80 L448.67,187.85 L447.14,188.94 L447.14,188.12 L448.74,187.02 L449.54,187.02 L449.54,193.80Z M96.87,440.90 L96.87,434.95 L95.34,436.04 L95.34,435.22 L96.94,434.12 L97.74,434.12 L97.74,440.90Z M448.77,440.90 L448.77,434.95 L447.24,436.04 L447.24,435.22 L448.84,434.12 L449.64,434.12 L449.64,440.90Z" fill="#000"/></svg>
</body></html>
